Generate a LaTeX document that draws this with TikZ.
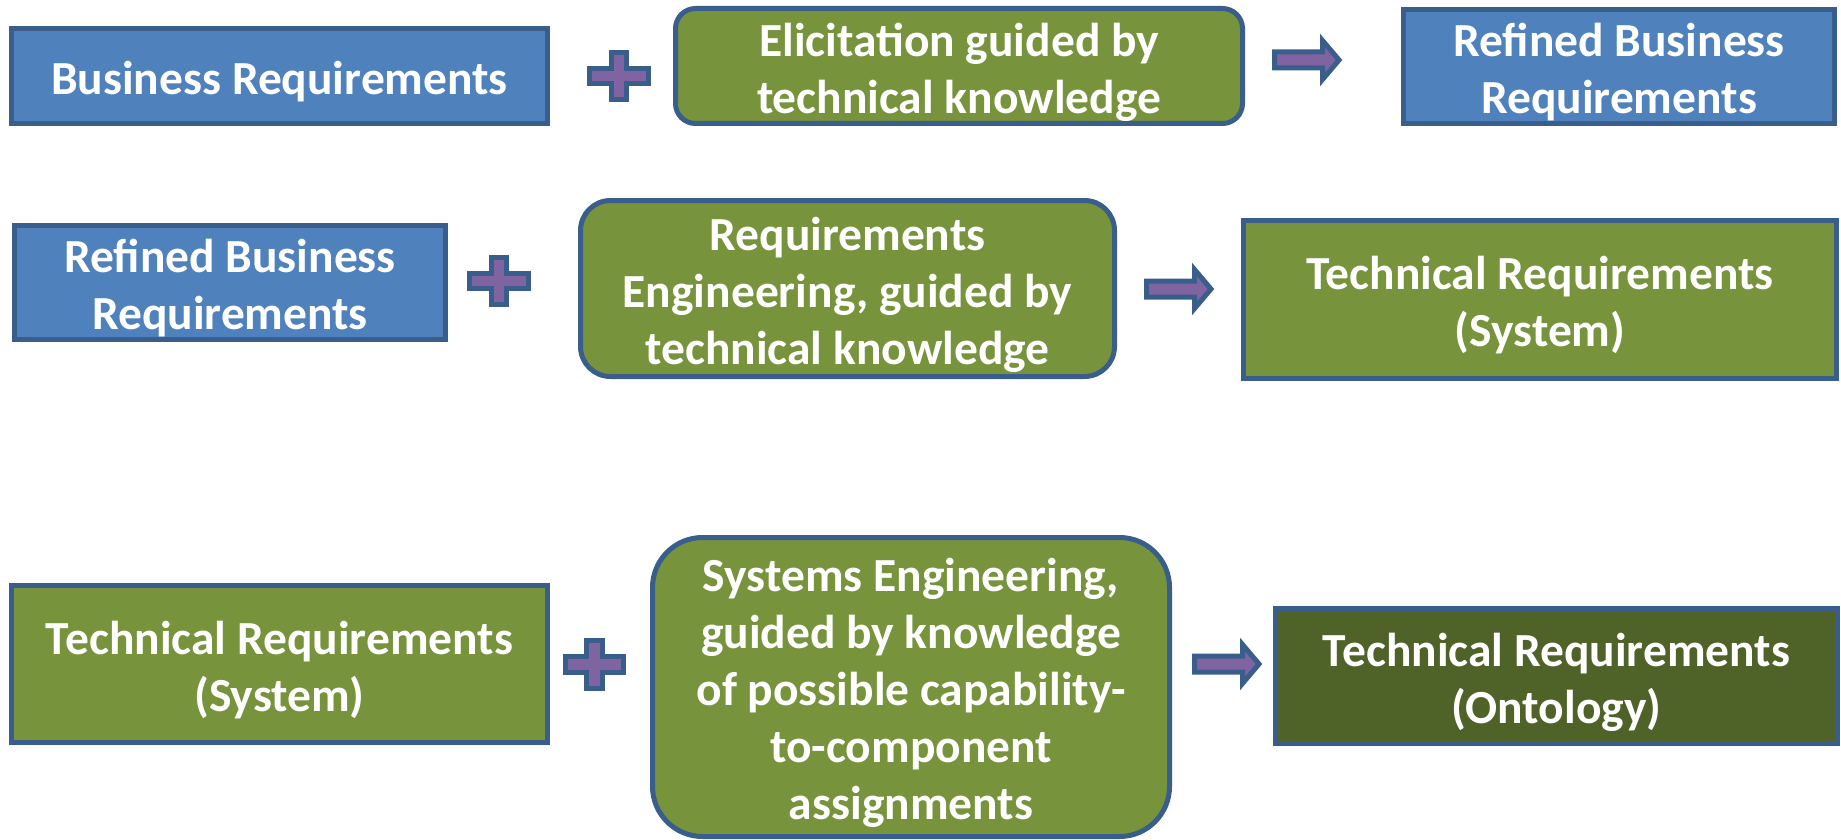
\documentclass[tikz,border=0pt]{standalone}
\usepackage{fontspec}
\setmainfont{Carlito}
\definecolor{bfill}{HTML}{4F81BD}
\definecolor{edge}{HTML}{3A5E8C}
\definecolor{gfill}{HTML}{77933C}
\definecolor{dgfill}{HTML}{4F6228}
\definecolor{pfill}{HTML}{8064A2}
\tikzset{
  box/.style={draw=edge, line width=5pt, inner sep=0pt},
  bluebox/.style={box, fill=bfill},
  greenbox/.style={box, fill=gfill},
  darkbox/.style={box, fill=dgfill},
  roundbox/.style={box, fill=gfill, rounded corners=#1},
  txt/.style={text=white, align=center, inner sep=0pt,
    font=\fontsize{47.5}{57}\selectfont\bfseries},
  symb/.style={draw=edge, fill=pfill, line width=5pt, line join=miter},
  plussign/.pic={
    \path[symb] (-29.25,-7.75) -- (-7.75,-7.75) -- (-7.75,-23.75) -- (7.75,-23.75)
      -- (7.75,-7.75) -- (29.25,-7.75) -- (29.25,7.75) -- (7.75,7.75)
      -- (7.75,23.75) -- (-7.75,23.75) -- (-7.75,7.75) -- (-29.25,7.75) -- cycle;
  },
  fatarrow/.pic={
    \path[symb] (-32.5,-8) -- (15.5,-8) -- (15.5,-19.5) -- (32,0)
      -- (15.5,19.5) -- (15.5,8) -- (-32.5,8) -- cycle;
  }
}
\newcommand{\tdown}{-6pt}
\begin{document}
\begin{tikzpicture}[x=1pt,y=-1pt]
\useasboundingbox (0,0) rectangle (1841,840);
% Row 1
\node[bluebox, minimum width=536pt, minimum height=95pt] (br1) at (279.5,76) {};
\node[txt] (br1t) at ([yshift=\tdown]br1.center) {Business Requirements};
\pic at (619,76) {plussign};
\node[roundbox=20pt, minimum width=567pt, minimum height=115pt] (el) at (959,66) {};
\node[txt] (elt) at ([yshift=\tdown]el.center) {Elicitation guided by\\technical knowledge};
\pic at (1307,60) {fatarrow};
\node[bluebox, minimum width=431pt, minimum height=114pt] (rbr1) at (1619,66.5) {};
\node[txt] (rbr1t) at ([yshift=\tdown]rbr1.center) {Refined Business\\Requirements};
% Row 2
\node[bluebox, minimum width=431pt, minimum height=114pt] (rbr2) at (230,282.5) {};
\node[txt] (rbr2t) at ([yshift=\tdown]rbr2.center) {Refined Business\\Requirements};
\pic at (499,281) {plussign};
\node[roundbox=30pt, minimum width=534pt, minimum height=176pt] (re) at (847.5,288.5) {};
\node[txt] (ret) at ([yshift=\tdown]re.center) {Requirements\\Engineering, guided by\\technical knowledge};
\pic at (1179,289) {fatarrow};
\node[greenbox, minimum width=593pt, minimum height=158pt] (ts1) at (1540,299.5) {};
\node[txt] (ts1t) at ([yshift=\tdown]ts1.center) {Technical Requirements\\(System)};
% Row 3
\node[greenbox, minimum width=536pt, minimum height=157pt] (ts2) at (279.5,664) {};
\node[txt] (ts2t) at ([yshift=\tdown]ts2.center) {Technical Requirements\\(System)};
\pic at (594.6,664.5) {plussign};
\node[roundbox=50pt, minimum width=517pt, minimum height=299pt] (se) at (911,687) {};
\node[txt] (set) at ([yshift=\tdown]se.center) {Systems Engineering,\\guided by knowledge\\of possible capability-\\to-component\\assignments};
\pic at (1227,664) {fatarrow};
\node[darkbox, minimum width=562pt, minimum height=135pt] (on) at (1556.5,676) {};
\node[txt] (ont) at ([yshift=\tdown]on.center) {Technical Requirements\\(Ontology)};
\end{tikzpicture}
\end{document}
